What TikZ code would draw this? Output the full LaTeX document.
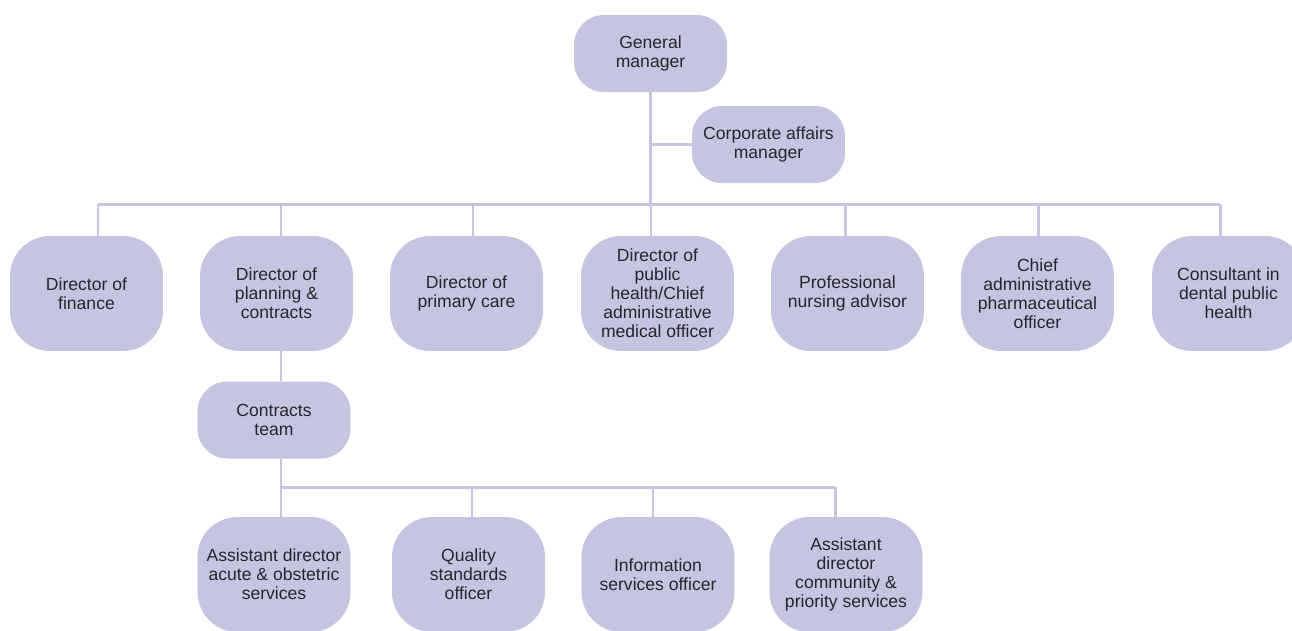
\documentclass[tikz,border=0pt]{standalone}
\usepackage{fontspec}
\setmainfont{Liberation Sans}
\usepackage{xcolor}
\usepackage{tikz}
\usetikzlibrary{positioning}

\definecolor{boxfill}{RGB}{197,197,226}
\definecolor{linkcol}{RGB}{197,197,226}
\definecolor{ink}{RGB}{38,38,42}

\begin{document}
\begin{tikzpicture}[
  x=0.02cm, y=-0.02cm,
  post/.style={rectangle,rounded corners=0.6cm,fill=boxfill,text=ink,
               minimum width=3.06cm,minimum height=1.54cm,inner sep=1pt,
               font=\fontsize{10}{10.8}\selectfont,align=center},
  tallpost/.style={post,minimum height=2.3cm,rounded corners=0.8cm},
  link/.style={draw=linkcol,line width=1.7pt}
]
  \useasboundingbox (0,0) rectangle (1292,630);
  \clip (0,0) rectangle (1292,630);

  \coordinate (busL) at (98,204);
  \coordinate (busR) at (1220,204);
  \coordinate (subL) at (281,487);
  \coordinate (subR) at (835,487);

  % top
  \node[post] (gm) at (650.5,53.5) {General\\manager};
  \node[post] (corp) at (768.5,144.5) {Corporate affairs\\manager};

  % directors
  \node[tallpost] (fin) at (86.5,293.5) {Director of\\finance};
  \node[tallpost] (plan) at (276.5,293.5) {Director of\\planning \&\\contracts};
  \node[tallpost] (prim) at (466.5,293.5) {Director of\\primary care};
  \node[tallpost] (pub) at (657.5,293.5) {Director of\\public\\health/Chief\\administrative\\medical officer};
  \node[tallpost] (nurs) at (847.5,293.5) {Professional\\nursing advisor};
  \node[tallpost] (pharm) at (1037.5,293.5) {Chief\\administrative\\pharmaceutical\\officer};
  \node[tallpost] (dent) at (1228.5,293.5) {Consultant in\\dental public\\health};

  % contracts
  \node[post] (team) at (274,420) {Contracts\\team};
  \node[tallpost] (acute) at (274,574.5) {Assistant director\\acute \& obstetric\\services};
  \node[tallpost] (qual) at (468.5,574.5) {Quality\\standards\\officer};
  \node[tallpost] (info) at (658,574.5) {Information\\services officer};
  \node[tallpost] (comm) at (846,574.5) {Assistant\\director\\community \&\\priority services};

  \draw[link] (gm.south) -- (gm.south |- busL);
  \draw[link] (corp.west) -- (corp.west -| gm.south);
  \draw[link] (busL) -- (busR);
  \foreach \n/\x in {fin/98,plan/281,prim/473,pub/651,nurs/845,pharm/1038,dent/1220}
    \draw[link] (\n.north -| \x,0) -- (\x,204);

  \draw[link] (plan.south -| subL) -- (team.north -| subL);
  \draw[link] (team.south -| subL) -- (acute.north -| subL);
  \draw[link] (subL) -- (subR);
  \foreach \n/\x in {qual/472,info/653,comm/835}
    \draw[link] (\n.north -| \x,0) -- (\x,487);
\end{tikzpicture}
\end{document}
